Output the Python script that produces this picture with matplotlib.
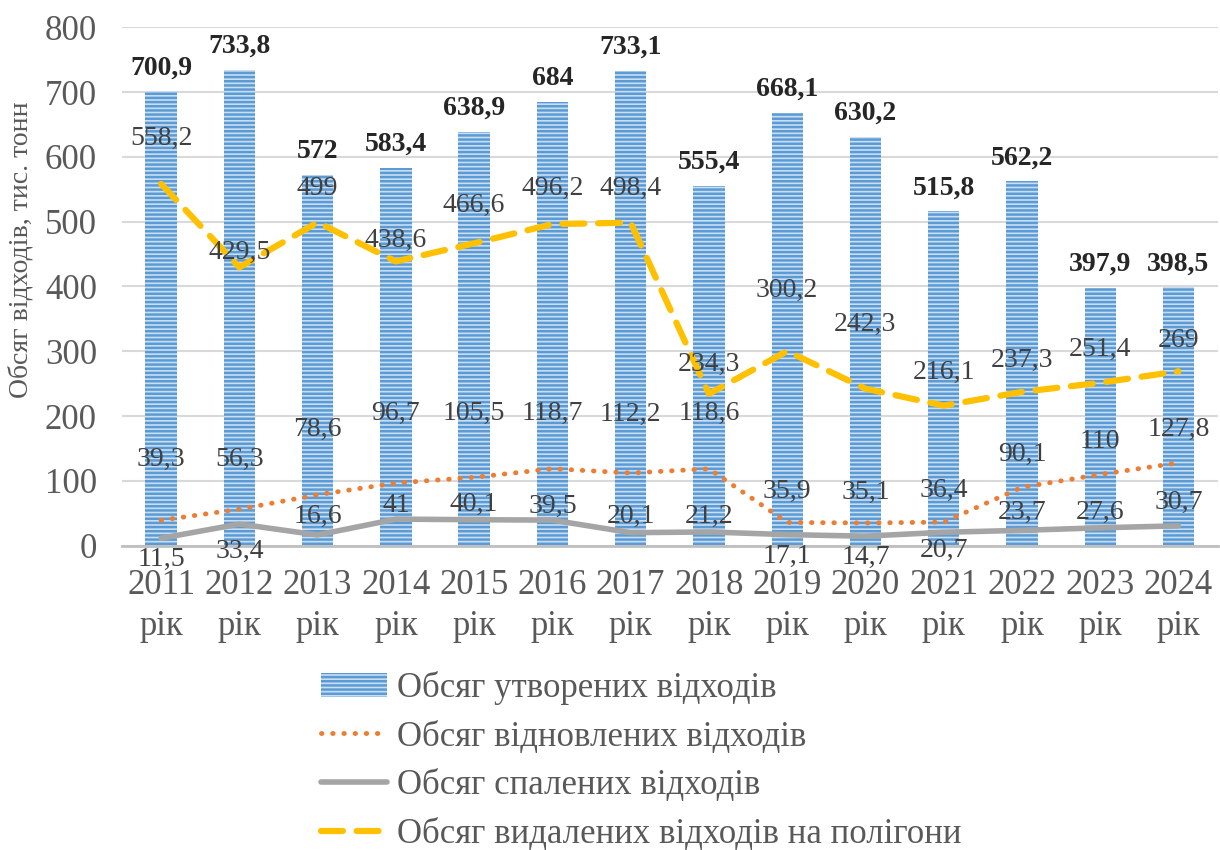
import matplotlib.pyplot as plt
import numpy as np

plt.rcParams['font.family'] = ['Liberation Serif', 'DejaVu Serif']
plt.rcParams['hatch.linewidth'] = 1.8

years = ['2011\nрік', '2012\nрік', '2013\nрік', '2014\nрік', '2015\nрік', '2016\nрік', '2017\nрік',
         '2018\nрік', '2019\nрік', '2020\nрік', '2021\nрік', '2022\nрік', '2023\nрік', '2024\nрік']
generated = [700.9, 733.8, 572, 583.4, 638.9, 684, 733.1, 555.4, 668.1, 630.2, 515.8, 562.2, 397.9, 398.5]
recovered = [39.3, 56.3, 78.6, 96.7, 105.5, 118.7, 112.2, 118.6, 35.9, 35.1, 36.4, 90.1, 110, 127.8]
burned = [11.5, 33.4, 16.6, 41, 40.1, 39.5, 20.1, 21.2, 17.1, 14.7, 20.7, 23.7, 27.6, 30.7]
landfill = [558.2, 429.5, 499, 438.6, 466.6, 496.2, 498.4, 234.3, 300.2, 242.3, 216.1, 237.3, 251.4, 269]

# label offsets (points) for line labels
off_land = [33, 11, 24, 15, 27, 26, 25, 21, 44, 46, 24, 23, 24, 22]
off_rec = [44, 36, 47, 50, 46, 40, 42, 40, 22, 22, 23, 24, 24, 24]
off_burn = [-15, -20, 13, 10, 11, 10, 12, 11, -16, -15, -13, 13, 11, 17]

fmt = lambda v: f"{v:g}".replace('.', ',')

fig = plt.figure(figsize=(12.2, 8.5), dpi=100)
ax = fig.add_axes([0.1, 0.358, 0.898, 0.61])
x = np.arange(len(years))

bars = ax.bar(x, generated, width=0.4, facecolor='#C9DEF2', edgecolor='#5B9BD5', hatch='----',
              linewidth=0, zorder=2, label='Обсяг утворених відходів')
l1, = ax.plot(x, recovered, color='#ED7D31', linestyle=(0, (0.1, 2.2)), dash_capstyle='round',
              linewidth=3.5, zorder=3, label='Обсяг відновлених відходів')
l2, = ax.plot(x, burned, color='#A5A5A5', linewidth=4, solid_capstyle='round', zorder=3,
              label='Обсяг спалених відходів')
l3, = ax.plot(x, landfill, color='#FFC000', linestyle=(0, (3.5, 2.2)), dash_capstyle='round',
              linewidth=4.5, zorder=3, label='Обсяг видалених відходів на полігони')

for i, v in enumerate(generated):
    ax.annotate(fmt(v), (i, v), xytext=(0, 17), textcoords='offset points', ha='center',
                va='center', fontsize=20, fontweight='bold', color='#262626', zorder=5)
for series, offs in ((landfill, off_land), (recovered, off_rec), (burned, off_burn)):
    for i, v in enumerate(series):
        ax.annotate(fmt(v), (i, v), xytext=(0, offs[i]), textcoords='offset points',
                    ha='center', va='center', fontsize=20, color='#404040', zorder=5)

ax.set_ylim(0, 800)
ax.set_xlim(-0.5, len(years) - 0.5)
ax.set_yticks(range(0, 801, 100))
ax.set_xticks(x)
ax.set_xticklabels(years, linespacing=1.3)
ax.tick_params(axis='both', length=0, labelsize=25, labelcolor='#595959')
ax.tick_params(axis='x', pad=17)
ax.tick_params(axis='y', pad=18)
ax.grid(axis='y', color='#D9D9D9', linewidth=1.5, zorder=0)
ax.set_axisbelow(True)
for s in ('top', 'right', 'left'):
    ax.spines[s].set_visible(False)
ax.spines['bottom'].set_color('#BFBFBF')
ax.spines['bottom'].set_linewidth(2)
ax.set_ylabel('Обсяг відходів, тис. тонн', fontsize=20, color='#595959')
ax.yaxis.set_label_coords(-0.081, 0.57)

leg = fig.legend([bars, l1, l2, l3], [h.get_label() for h in (bars, l1, l2, l3)],
                 loc='upper left', bbox_to_anchor=(0.2485, 0.231), frameon=False, fontsize=25,
                 labelspacing=0.45, handlelength=1.9, handletextpad=0.3, borderpad=0)
for t in leg.get_texts():
    t.set_color('#595959')

fig.savefig('out.png', dpi=100)
